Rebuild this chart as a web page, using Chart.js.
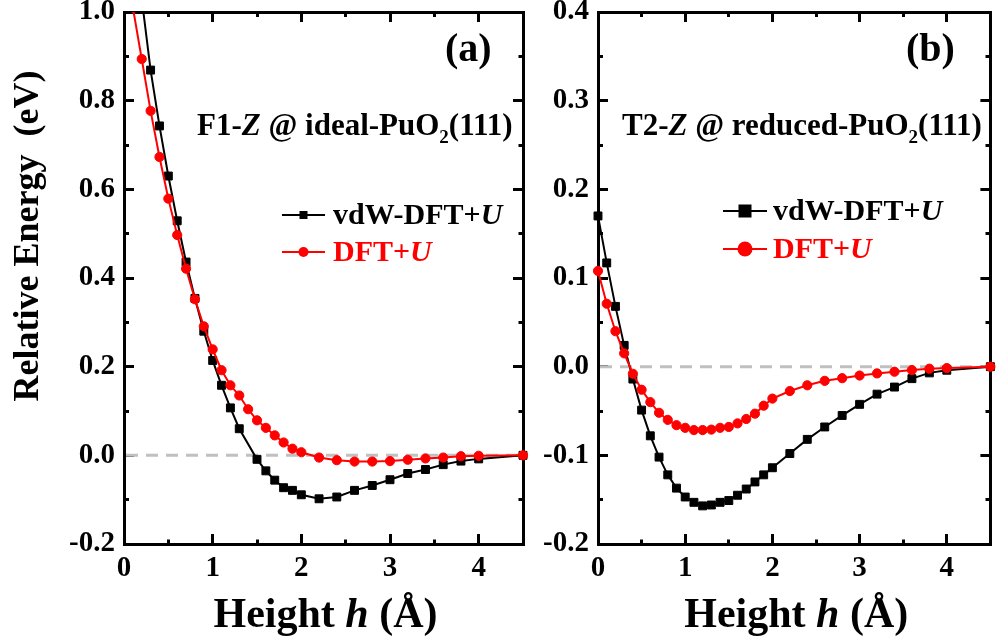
<!DOCTYPE html>
<html>
<head>
<meta charset="utf-8">
<script src="https://cdn.jsdelivr.net/npm/chart.js@4.4.1/dist/chart.umd.min.js"></script>
<style>
  html, body { margin: 0; padding: 0; background: #fff; }
  #wrap { position: relative; width: 997px; height: 644px; overflow: hidden; }
  #wrap canvas { position: absolute; top: 0; }
  #panelA { left: 0; }
  #panelB { left: 535px; }
</style>
</head>
<body>
<div id="wrap">
  <canvas id="panelA" width="535" height="644"></canvas>
  <canvas id="panelB" width="462" height="644"></canvas>
</div>
<script>
// ---- Panel (a): F1-Z @ ideal-PuO2(111) ----
const heightA_vdw = [0.2, 0.3, 0.4, 0.5, 0.6, 0.7, 0.8, 0.9, 1.0, 1.1, 1.2, 1.3, 1.5, 1.6, 1.7, 1.8, 1.9, 2.0,
                     2.2, 2.4, 2.6, 2.8, 3.0, 3.2, 3.4, 3.6, 3.8, 4.0, 4.5];
const energyA_vdw = [1.03, 0.869, 0.743, 0.630, 0.529, 0.436, 0.354, 0.280, 0.214, 0.158, 0.107, 0.060, -0.009,
                     -0.035, -0.056, -0.073, -0.079, -0.089, -0.098, -0.094, -0.079, -0.068, -0.055, -0.041,
                     -0.032, -0.021, -0.013, -0.008, 0.0];
const heightA_dft = [0.1, 0.2, 0.3, 0.4, 0.5, 0.6, 0.7, 0.8, 0.9, 1.0, 1.1, 1.2, 1.3, 1.4, 1.5, 1.6, 1.7, 1.8,
                     1.9, 2.0, 2.2, 2.4, 2.6, 2.8, 3.0, 3.2, 3.4, 3.6, 3.8, 4.0, 4.5];
const energyA_dft = [1.01, 0.894, 0.777, 0.673, 0.579, 0.497, 0.421, 0.352, 0.291, 0.239, 0.192, 0.158, 0.135,
                     0.104, 0.079, 0.062, 0.045, 0.029, 0.015, 0.007, -0.005, -0.011, -0.014, -0.014, -0.013,
                     -0.010, -0.007, -0.005, -0.002, -0.001, 0.0];

// ---- Panel (b): T2-Z @ reduced-PuO2(111) ----
const heightB = [0.0, 0.1, 0.2, 0.3, 0.4, 0.5, 0.6, 0.7, 0.8, 0.9, 1.0, 1.1, 1.2, 1.3, 1.4, 1.5, 1.6, 1.7, 1.8,
                 1.9, 2.0, 2.2, 2.4, 2.6, 2.8, 3.0, 3.2, 3.4, 3.6, 3.8, 4.0, 4.5];
const energyB_vdw = [0.170, 0.117, 0.068, 0.024, -0.014, -0.049, -0.078, -0.102, -0.122, -0.137, -0.147, -0.153,
                     -0.157, -0.156, -0.153, -0.151, -0.145, -0.138, -0.130, -0.122, -0.114, -0.098, -0.082,
                     -0.068, -0.055, -0.0425, -0.031, -0.023, -0.0135, -0.007, -0.004, 0.0];
const energyB_dft = [0.108, 0.071, 0.040, 0.015, -0.008, -0.026, -0.040, -0.052, -0.060, -0.066, -0.069, -0.0715,
                     -0.0715, -0.071, -0.069, -0.068, -0.064, -0.059, -0.053, -0.044, -0.036, -0.0275, -0.021,
                     -0.016, -0.013, -0.010, -0.0076, -0.0057, -0.0038, -0.0023, -0.0016, 0.0];

// ---- Tick labels ----
const xTickLabels = [0, 1, 2, 3, 4];
const yTickLabelsA = [-0.2, 0.0, 0.2, 0.4, 0.6, 0.8, 1.0];
const yTickLabelsB = [-0.2, -0.1, 0.0, 0.1, 0.2, 0.3, 0.4];
const seriesNames = ['vdW-DFT+U', 'DFT+U'];

const SERIF = '"Liberation Serif", "Times New Roman", serif';
const RED = '#ff0000';
const INK = '#000';

function boldFont(size, italic) {
  return (italic ? 'italic ' : '') + 'bold ' + size + 'px ' + SERIF;
}
function toPoints(xs, ys) {
  return xs.map((x, i) => ({ x: x, y: ys[i] }));
}
function inTickList(v, list) {
  for (let i = 0; i < list.length; i++) {
    if (Math.abs(list[i] - v) < 1e-6) return true;
  }
  return false;
}

// Text made of runs: [text, style] where style is '', 'i' (italic) or 'sub' (subscript)
function richWidth(ctx, runs, size) {
  let w = 0;
  for (const [t, s] of runs) {
    ctx.font = boldFont(s === 'sub' ? Math.round(size * 0.62) : size, s === 'i');
    w += ctx.measureText(t).width;
  }
  return w;
}
function drawRich(ctx, runs, x, y, size, color, align) {
  const w = richWidth(ctx, runs, size);
  let cx = align === 'center' ? x - w / 2 : (align === 'right' ? x - w : x);
  ctx.fillStyle = color;
  ctx.textAlign = 'left';
  for (const [t, s] of runs) {
    const sz = s === 'sub' ? Math.round(size * 0.62) : size;
    ctx.font = boldFont(sz, s === 'i');
    ctx.fillText(t, cx, y + (s === 'sub' ? size * 0.25 : 0));
    cx += ctx.measureText(t).width;
  }
}

// Per-panel decoration settings, keyed by canvas id
const panelDecor = {};

// Axis line plus inward tick marks. Tick marks run 10px into the plot;
// minor ones are shortened with a dash pattern anchored at the axis line.
function frameGrid(majorList, startsAtAxis) {
  return {
    display: true,
    drawOnChartArea: false,
    drawTicks: true,
    tickLength: -10,
    tickWidth: 3,
    tickColor: INK,
    tickBorderDash: c => (c.tick && inTickList(c.tick.value, majorList)) ? [] : [6.5, 100],
    tickBorderDashOffset: c => (c.tick && inTickList(c.tick.value, majorList)) ? 0 : (startsAtAxis ? 0 : 101.5)
  };
}
const frameBorder = { display: true, width: 3, color: INK };

const panelPlugin = {
  id: 'panelDeco',
  beforeDatasetsDraw(chart) {
    // dashed zero reference line
    const ctx = chart.ctx;
    const a = chart.chartArea;
    const y0 = chart.scales.y.getPixelForValue(0);
    ctx.save();
    ctx.strokeStyle = '#c0c0c0';
    ctx.lineWidth = 3;
    ctx.setLineDash([12, 8]);
    ctx.beginPath();
    ctx.moveTo(a.left + 2, y0);
    ctx.lineTo(a.right - 2, y0);
    ctx.stroke();
    ctx.restore();
  },
  afterDraw(chart) {
    const o = panelDecor[chart.canvas.id];
    const ctx = chart.ctx;
    const a = chart.chartArea;

    ctx.save();
    ctx.textBaseline = 'alphabetic';
    drawRich(ctx, [[o.letter, '']], o.letterX, o.letterY, 40, INK, 'left');
    drawRich(ctx, o.caption, o.captionX, o.captionY, 31, INK, 'left');

    const L = o.legend;
    const rows = [
      { name: [['vdW-DFT+', ''], ['U', 'i']], color: INK, y: L.y1, shape: 'square', s: L.sq },
      { name: [['DFT+', ''], ['U', 'i']], color: RED, y: L.y2, shape: 'circle', s: L.r }
    ];
    rows.forEach(r => {
      ctx.strokeStyle = r.color;
      ctx.fillStyle = r.color;
      ctx.lineWidth = 2;
      ctx.beginPath();
      ctx.moveTo(L.x0, r.y); ctx.lineTo(L.x1, r.y);
      ctx.stroke();
      const mx = (L.x0 + L.x1) / 2;
      if (r.shape === 'square') {
        ctx.fillRect(mx - r.s / 2, r.y - r.s / 2, r.s, r.s);
      } else {
        ctx.beginPath(); ctx.arc(mx, r.y, r.s, 0, Math.PI * 2); ctx.fill();
      }
      ctx.textBaseline = 'middle';
      drawRich(ctx, r.name, L.tx, r.y + 1, 30, r.color, 'left');
      ctx.textBaseline = 'alphabetic';
    });

    drawRich(ctx, [['Height ', ''], ['h', 'i'], [' (\u00C5)', '']], (a.left + a.right) / 2 + 2, 627, 42, INK, 'center');

    if (o.yTitle) {
      ctx.save();
      ctx.translate(o.yTitle.x, o.yTitle.y);
      ctx.rotate(-Math.PI / 2);
      ctx.textBaseline = 'middle';
      drawRich(ctx, [[o.yTitle.text, '']], 0, 0, 36, INK, 'center');
      ctx.restore();
    }
    ctx.restore();
  }
};

function makeChart(id, cfg) {
  panelDecor[id] = cfg.decor;
  const tickFont = { family: SERIF, size: 29, weight: 'bold' };
  const yMajor = cfg.decor.yMajor;
  return new Chart(document.getElementById(id), {
    type: 'scatter',
    data: {
      datasets: [
        {
          label: seriesNames[1],
          data: toPoints(cfg.xDft, cfg.yDft),
          showLine: true,
          borderColor: RED,
          backgroundColor: RED,
          borderWidth: 2,
          pointStyle: 'circle',
          pointRadius: 4.6,
          pointBorderWidth: 1,
          pointBackgroundColor: RED,
          pointBorderColor: RED,
          order: 0,
          clip: { left: 8, top: 0, right: 8, bottom: 8 }
        },
        {
          label: seriesNames[0],
          data: toPoints(cfg.xVdw, cfg.yVdw),
          showLine: true,
          borderColor: INK,
          backgroundColor: INK,
          borderWidth: 2,
          pointStyle: 'rect',
          pointRadius: 5.6,
          pointBorderWidth: 1,
          pointBackgroundColor: INK,
          pointBorderColor: INK,
          order: 1,
          clip: { left: 8, top: 0, right: 8, bottom: 8 }
        }
      ]
    },
    options: {
      responsive: false,
      animation: false,
      devicePixelRatio: 1,
      layout: { padding: cfg.padding },
      plugins: {
        legend: { display: false },
        tooltip: { enabled: false }
      },
      scales: {
        x: {
          type: 'linear',
          position: 'bottom',
          min: 0,
          max: 4.5,
          border: frameBorder,
          grid: frameGrid(xTickLabels, true),
          afterFit(s) { s.height = 100; s.paddingLeft = 0; s.paddingRight = 0; },
          ticks: {
            stepSize: 0.5,
            autoSkip: false,
            maxRotation: 0,
            padding: 17,
            color: INK,
            font: tickFont,
            callback: v => inTickList(v, xTickLabels) ? String(Math.round(v)) : ''
          }
        },
        xTop: {
          type: 'linear',
          position: 'top',
          min: 0,
          max: 4.5,
          border: frameBorder,
          grid: frameGrid(xTickLabels, false),
          afterFit(s) { s.height = 0; s.paddingLeft = 0; s.paddingRight = 0; },
          ticks: { display: false, stepSize: 0.5, autoSkip: false }
        },
        y: {
          type: 'linear',
          position: 'left',
          min: cfg.yMin,
          max: cfg.yMax,
          border: frameBorder,
          grid: frameGrid(yMajor, false),
          afterFit(s) { s.width = cfg.yWidth; s.paddingTop = 0; s.paddingBottom = 0; },
          ticks: {
            stepSize: cfg.yStep,
            autoSkip: false,
            padding: cfg.yPad,
            color: INK,
            font: tickFont,
            callback: v => inTickList(v, yMajor) ? (Math.abs(v) < 1e-9 ? 0 : v).toFixed(1) : ''
          }
        },
        yRight: {
          type: 'linear',
          position: 'right',
          min: cfg.yMin,
          max: cfg.yMax,
          border: frameBorder,
          grid: frameGrid(yMajor, true),
          afterFit(s) { s.width = 0; s.paddingTop = 0; s.paddingBottom = 0; },
          ticks: { display: false, stepSize: cfg.yStep, autoSkip: false }
        }
      }
    },
    plugins: [panelPlugin]
  });
}

makeChart('panelA', {
  xVdw: heightA_vdw, yVdw: energyA_vdw,
  xDft: heightA_dft, yDft: energyA_dft,
  yMin: -0.2, yMax: 1.0, yStep: 0.1, yWidth: 124, yPad: 19,
  padding: { left: 0, top: 12, right: 12, bottom: 0 },
  decor: {
    yMajor: yTickLabelsA,
    letter: '(a)', letterX: 445, letterY: 61,
    caption: [['F1-', ''], ['Z', 'i'], [' @ ideal-PuO', ''], ['2', 'sub'], ['(111)', '']],
    captionX: 197, captionY: 135,
    legend: { x0: 282, x1: 325, tx: 333, y1: 215, y2: 252, sq: 8, r: 5 },
    yTitle: { text: 'Relative Energy  (eV)', x: 29, y: 236 }
  }
});

makeChart('panelB', {
  xVdw: heightB, yVdw: energyB_vdw,
  xDft: heightB, yDft: energyB_dft,
  yMin: -0.2, yMax: 0.4, yStep: 0.05, yWidth: 63, yPad: 19,
  padding: { left: 0, top: 12, right: 2, bottom: 0 },
  decor: {
    yMajor: yTickLabelsB,
    letter: '(b)', letterX: 371, letterY: 61,
    caption: [['T2-', ''], ['Z', 'i'], [' @ reduced-PuO', ''], ['2', 'sub'], ['(111)', '']],
    captionX: 87, captionY: 135,
    legend: { x0: 188, x1: 232, tx: 238, y1: 211, y2: 249, sq: 13, r: 7.5 },
    yTitle: null
  }
});
</script>
</body>
</html>
